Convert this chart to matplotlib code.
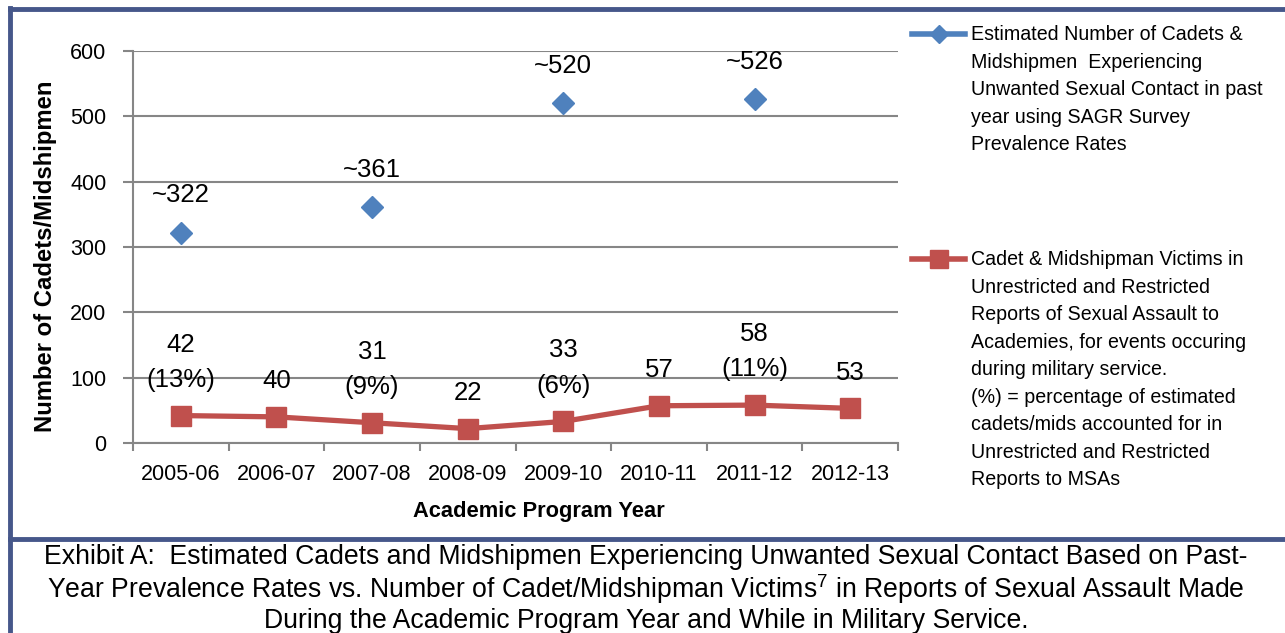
import matplotlib
matplotlib.use("Agg")
import matplotlib.pyplot as plt
from matplotlib.lines import Line2D
from matplotlib import font_manager as fm
import numpy as np

# ---------------- data ----------------
years = ["2005-06", "2006-07", "2007-08", "2008-09", "2009-10", "2010-11", "2011-12", "2012-13"]
estimated = [322, np.nan, 361, np.nan, 520, np.nan, 526, np.nan]
estimated_labels = ["~322", "", "~361", "", "~520", "", "~526", ""]
victims = [42, 40, 31, 22, 33, 57, 58, 53]
victim_pct = ["(13%)", "", "(9%)", "", "(6%)", "", "(11%)", ""]
yticks = [0, 100, 200, 300, 400, 500, 600]

legend_est = ("Estimated Number of Cadets &\nMidshipmen  Experiencing\n"
              "Unwanted Sexual Contact in past\nyear using SAGR Survey\nPrevalence Rates")
legend_vic = ("Cadet & Midshipman Victims in\nUnrestricted and Restricted\n"
              "Reports of Sexual Assault to\nAcademies, for events occuring\n"
              "during military service.\n(%) = percentage of estimated\n"
              "cadets/mids accounted for in\nUnrestricted and Restricted\nReports to MSAs")
caption = ("Exhibit A:  Estimated Cadets and Midshipmen Experiencing Unwanted Sexual Contact Based on Past-\n"
           "Year Prevalence Rates vs. Number of Cadet/Midshipman Victims$^{7}$ in Reports of Sexual Assault Made\n"
           "During the Academic Program Year and While in Military Service.")

# ---------------- fonts ----------------
names = {f.name for f in fm.fontManager.ttflist}
FONT = "Liberation Sans Narrow" if "Liberation Sans Narrow" in names else "Liberation Sans"
plt.rcParams["font.family"] = [FONT, "DejaVu Sans"]
plt.rcParams["mathtext.fontset"] = "custom"
plt.rcParams["mathtext.rm"] = FONT
plt.rcParams["mathtext.it"] = FONT
plt.rcParams["mathtext.bf"] = FONT

W, H = 1285, 633
fig = plt.figure(figsize=(W / 100, H / 100), dpi=100)

def fx(px):
    return px / W

def fy(py):
    return 1 - py / H

BLUE = "#4F81BD"
RED = "#C0504D"
GRID = "#868686"
BORDER = "#46578A"

ax = fig.add_axes([fx(133), fy(443), fx(898) - fx(133), fy(51) - fy(443)])
x = np.arange(len(years))

ax.plot(x, victims, color=RED, lw=3.8, marker="s", ms=14, zorder=3)
ax.plot(x, estimated, color=BLUE, lw=0, marker="D", ms=11, zorder=3)

for xi, v, lab in zip(x, estimated, estimated_labels):
    if lab:
        ax.annotate(lab, (xi, v), xytext=(0, 27), textcoords="offset points",
                    ha="center", va="center", fontsize=18.5)
for xi, v, n, p in zip(x, victims, victims, victim_pct):
    txt = f"{n}\n{p}" if p else f"{n}"
    ax.annotate(txt, (xi, v), xytext=(0, 17), textcoords="offset points",
                ha="center", va="bottom", fontsize=18.5, linespacing=1.6)

ax.set_xlim(-0.5, len(years) - 0.5)
ax.set_ylim(0, 600)
ax.set_yticks(yticks)
ax.set_xticks(np.arange(-0.5, len(years)), labels=[""] * (len(years) + 1))
ax.set_xticks(x, labels=years, minor=True)
ax.tick_params(axis="x", which="major", direction="out", length=6, color=GRID, width=1.5)
ax.tick_params(axis="x", which="minor", length=0, pad=15, labelsize=15.5)
ax.tick_params(axis="y", direction="out", length=7, color=GRID, width=1.5, pad=12, labelsize=15.5)
ax.grid(axis="y", color=GRID, lw=1.5)
ax.set_axisbelow(True)
for s in ["top", "right"]:
    ax.spines[s].set_visible(False)
for s in ["left", "bottom"]:
    ax.spines[s].set_color(GRID)
    ax.spines[s].set_linewidth(1.5)

ax.set_xlabel("Academic Program Year", fontsize=15.75, fontweight="bold")
ax.xaxis.set_label_coords((539 - 133) / 765, -(511 - 443) / 392)
ax.xaxis.label.set_va("center")
ax.set_ylabel("Number of Cadets/Midshipmen", fontsize=17.2, fontweight="bold")
ax.yaxis.set_label_coords(-(133 - 46) / 765, (443 - 256) / 392)
ax.yaxis.label.set_va("center")

# ---------------- legend (manual) ----------------
fig.add_artist(Line2D([fx(912), fx(965)], [fy(34), fy(34)], color=BLUE, lw=4,
                      transform=fig.transFigure))
fig.add_artist(Line2D([fx(938.5)], [fy(34)], color=BLUE, marker="D", ms=9, lw=0,
                      transform=fig.transFigure))
fig.text(fx(971), fy(25), legend_est, fontsize=14.1, va="top", ha="left", linespacing=1.57)
fig.add_artist(Line2D([fx(912), fx(965)], [fy(259), fy(259)], color=RED, lw=4,
                      transform=fig.transFigure))
fig.add_artist(Line2D([fx(938.5)], [fy(259)], color=RED, marker="s", ms=13, lw=0,
                      transform=fig.transFigure))
fig.text(fx(971), fy(250), legend_vic, fontsize=14.1, va="top", ha="left", linespacing=1.57)

# ---------------- borders ----------------
bw = 3.5
fig.add_artist(Line2D([fx(10), fx(W + 5)], [fy(9), fy(9)], color=BORDER, lw=bw, transform=fig.transFigure))
fig.add_artist(Line2D([fx(10), fx(W + 5)], [fy(539), fy(539)], color=BORDER, lw=bw, transform=fig.transFigure))
fig.add_artist(Line2D([fx(10), fx(10)], [fy(8), fy(H + 5)], color=BORDER, lw=bw, transform=fig.transFigure))

# ---------------- caption ----------------
fig.text(fx(646), fy(589), caption, fontsize=19.2, ha="center", va="center", linespacing=1.07)

fig.savefig("out.png", dpi=100)
